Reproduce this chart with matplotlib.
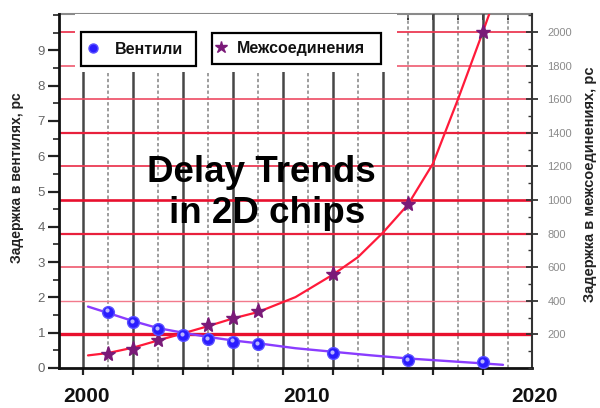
import matplotlib
matplotlib.use("Agg")
import matplotlib.pyplot as plt
from matplotlib.patches import Rectangle
from matplotlib.lines import Line2D
from matplotlib.transforms import ScaledTranslation
from matplotlib.ticker import MultipleLocator, NullFormatter

# ---- data -------------------------------------------------------------
gate_years = [2001, 2002, 2003, 2004, 2005, 2006, 2007, 2010, 2013, 2016]
gate_delay_ps = [1.60, 1.29, 1.10, 0.93, 0.81, 0.75, 0.68, 0.42, 0.23, 0.16]

wire_years = [2001, 2002, 2003, 2005, 2006, 2007, 2010, 2013, 2016]
wire_delay_ps = [85, 111, 168, 253, 297, 339, 561, 975, 2000]

# trend curves
gate_trend_years = [2000.2, 2001, 2002, 2003, 2004, 2005, 2006, 2007, 2008.5,
                    2010, 2011.5, 2013, 2014.5, 2016, 2016.8]
gate_trend_ps = [1.74, 1.56, 1.33, 1.13, 1.00, 0.88, 0.78, 0.70, 0.56,
                 0.46, 0.36, 0.27, 0.20, 0.13, 0.09]

wire_trend_years = [2000.2, 2001, 2002, 2003, 2004, 2005, 2006, 2007, 2008.5,
                    2010, 2011, 2012, 2013, 2014, 2015, 2016, 2016.25]
wire_trend_ps = [75, 89, 121, 164, 206, 249, 295, 333, 422,
                 556, 660, 806, 973, 1217, 1600, 2003, 2107]

gate_ticks = [0, 1, 2, 3, 4, 5, 6, 7, 8, 9]
wire_grid_levels = [200, 400, 600, 800, 1000, 1200, 1400, 1600, 1800, 2000]
year_labels = ["2000", "2010", "2020"]
legend_labels = ["Вентили", "Межсоединения"]
title_lines = ["Delay Trends", "in 2D chips"]
left_label = "Задержка в вентилях, рс"
right_label = "Задержка в межсоединениях, рс"

# ---- figure -----------------------------------------------------------
W, H = 600, 408
plt.rcParams["font.family"] = ["Liberation Sans", "DejaVu Sans"]
fig = plt.figure(figsize=(W / 100, H / 100), dpi=100)


def fx(x):
    return x / W


def fy(y):
    return 1 - y / H


ax_l, ax_r, ax_t, ax_b = 59, 532, 14, 368
ax = fig.add_axes([fx(ax_l), fy(ax_b), fx(ax_r - ax_l), (ax_b - ax_t) / H])
ax2 = ax.twinx()

ax.set_xlim(1999.04, 2017.96)
ax.set_ylim(0, 10.03)
ax2.set_ylim(0, 2107)

# vertical year grid: solid on even years, dotted on odd years
for yr in range(2000, 2018):
    if yr % 2 == 0:
        ax.axvline(yr, color="#474747", lw=1.8, zorder=1)
    else:
        ax.axvline(yr, color="#8c8c8c", lw=1.2, ls=(0, (2, 1.5)), zorder=1)

# horizontal red grid on the interconnect scale
grid_style = {200: (2.4, "#e8102e"), 400: (1.0, "#f27a8c"), 600: (1.1, "#ee4a62"),
              800: (1.6, "#e8203c"), 1000: (1.9, "#e8102e"), 1200: (1.3, "#ec3a54"),
              1400: (1.6, "#e8203c"), 1600: (1.2, "#ee4a62"), 1800: (1.2, "#ef5a70"),
              2000: (1.3, "#ec3a54")}
for lvl in wire_grid_levels:
    lw, col = grid_style[lvl]
    ax.plot([0, 1], [lvl, lvl], color=col, lw=lw, zorder=1.5,
            transform=ax2.get_yaxis_transform())

# blank area behind the legend boxes
ax.add_patch(Rectangle((fx(75), fy(72)), fx(397 - 75), (72 - ax_t) / H,
                       transform=fig.transFigure, facecolor="white",
                       edgecolor="none", zorder=2))

# trend curves
ax.plot(gate_trend_years, gate_trend_ps, color="#8a3cff", lw=1.7, zorder=3,
        solid_capstyle="round", solid_joinstyle="round")
ax.plot(wire_trend_years, wire_trend_ps, color="#ff1a3a", lw=1.6, zorder=3,
        transform=ax2.transData, solid_capstyle="round", solid_joinstyle="round")

# markers
ax.plot(wire_years, wire_delay_ps, ls="none", marker="*", ms=11,
        color="#7a1a78", mec="#7a1a78", zorder=4, transform=ax2.transData)
ax.plot(gate_years, gate_delay_ps, ls="none", marker="o", ms=8.5,
        mfc="#2a1cff", mec="#5a50ff", mew=1.0, zorder=5)
hl = ax.transData + ScaledTranslation(-1 / 100, 1.2 / 100, fig.dpi_scale_trans)
ax.plot(gate_years, gate_delay_ps, ls="none", marker="o", ms=3,
        mfc="#b8b4ff", mec="none", zorder=6, transform=hl)

ax.set_xlim(1999.04, 2017.96)
ax.set_ylim(0, 10.03)

# axes styling
for side in ("left", "bottom"):
    ax.spines[side].set_linewidth(2)
    ax.spines[side].set_color("#111111")
ax.spines["top"].set_visible(False)
ax.spines["right"].set_color("#333333")
ax.spines["right"].set_linewidth(1.5)
for side in ("left", "bottom", "top", "right"):
    ax2.spines[side].set_visible(False)

ax.xaxis.set_major_locator(MultipleLocator(2))
ax.xaxis.set_major_formatter(NullFormatter())
ax.tick_params(axis="x", which="major", direction="out", length=5, width=1.6,
               color="#222222", top=False, bottom=True)

# top axis: inward ticks every year
top = ax.secondary_xaxis("top")
top.xaxis.set_major_locator(MultipleLocator(1))
top.xaxis.set_major_formatter(NullFormatter())
top.tick_params(axis="x", direction="in", length=4, width=1.3, color="#222222")
top.spines["top"].set_color("#8a8a8a")
top.spines["top"].set_linewidth(1.5)

ax.set_yticks(gate_ticks)
ax.yaxis.set_minor_locator(MultipleLocator(0.5))
ax.tick_params(axis="y", which="major", direction="out", length=8, width=1.6,
               color="#222222", labelsize=9.5, labelcolor="#666666", pad=2)
ax.tick_params(axis="y", which="minor", direction="out", length=4, width=1.2,
               color="#222222")
ax.set_ylim(0, 10.03)

ax2.set_yticks(wire_grid_levels)
ax2.yaxis.set_minor_locator(MultipleLocator(100))
ax2.tick_params(axis="y", which="major", direction="inout", length=8, width=1.3,
                color="#333333", labelsize=8, labelcolor="#8a8a8a", pad=7)
ax2.tick_params(axis="y", which="minor", direction="in", length=3, width=1.0,
                color="#333333")
ax2.set_ylim(0, 2107)
ax2.patch.set_visible(False)

# year labels under the axis
for txt, xp in zip(year_labels, [86, 307, 535]):
    fig.text(fx(xp), fy(402), txt, ha="center", va="baseline",
             fontsize=15, fontweight="bold", color="#111111")

# axis titles
fig.text(fx(17), fy(178), left_label, rotation=90, ha="center", va="center",
         fontsize=10, fontweight="bold", color="#222222")
fig.text(fx(590), fy(184), right_label, rotation=90, ha="center", va="center",
         fontsize=10.5, fontweight="bold", color="#222222")

# chart title inside the plot
fig.text(fx(261), fy(182), title_lines[0], ha="center", va="baseline",
         fontsize=26.5, fontweight="bold", color="#000000", zorder=7)
fig.text(fx(267), fy(223), title_lines[1], ha="center", va="baseline",
         fontsize=26.5, fontweight="bold", color="#000000", zorder=7)

# legend boxes
boxes = [(81, 32, 196, 66), (212, 33, 381, 64)]
for (x0, y0, x1, y1) in boxes:
    fig.add_artist(Rectangle((fx(x0), fy(y1)), fx(x1 - x0), (y1 - y0) / H,
                             transform=fig.transFigure, facecolor="white",
                             edgecolor="#000000", lw=1.6, zorder=8))
fig.add_artist(Line2D([fx(93)], [fy(48)], transform=fig.transFigure, ls="none",
                      marker="o", ms=6.5, mfc="#2a1cff", mec="#5a50ff", zorder=9))
fig.add_artist(Line2D([fx(221)], [fy(47)], transform=fig.transFigure, ls="none",
                      marker="*", ms=9, color="#7a1a78", zorder=9))
fig.text(fx(115), fy(49), legend_labels[0], ha="left", va="center",
         fontsize=11.5, fontweight="bold", color="#111111", zorder=9)
fig.text(fx(237), fy(48), legend_labels[1], ha="left", va="center",
         fontsize=11.5, fontweight="bold", color="#111111", zorder=9)

fig.savefig("out.png", dpi=100)
